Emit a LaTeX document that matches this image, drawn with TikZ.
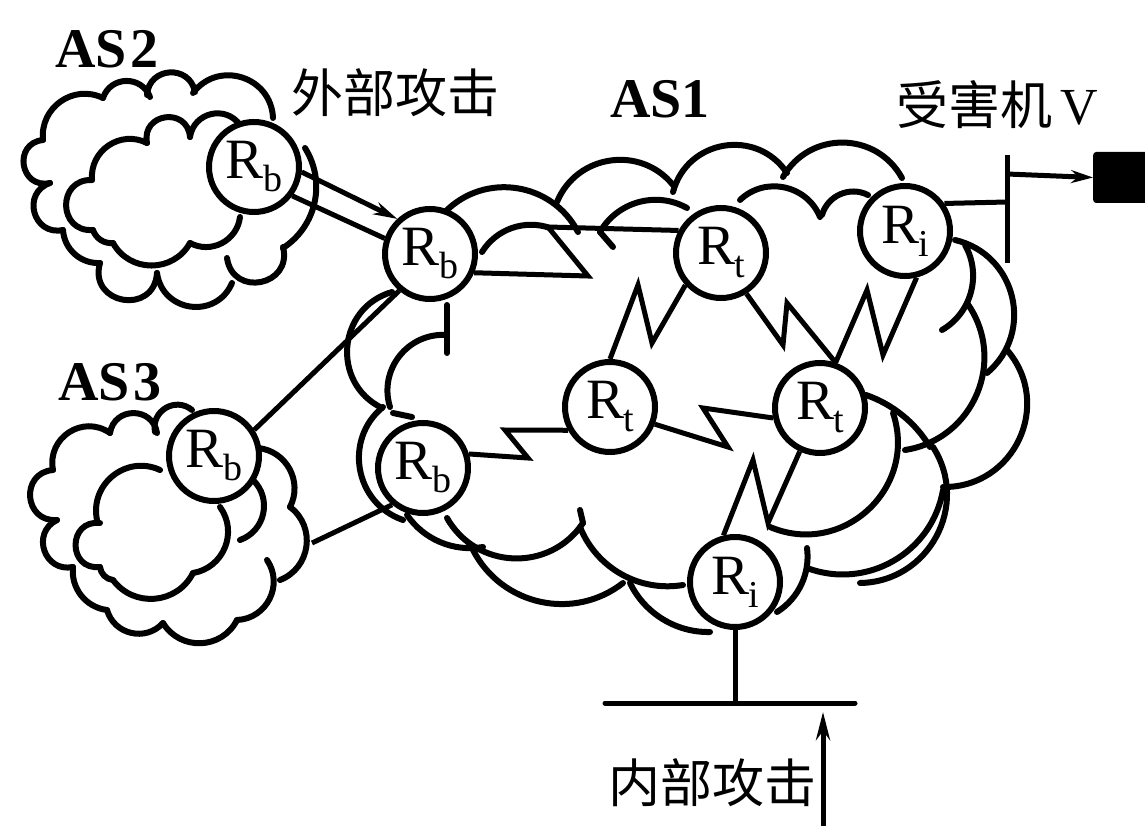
\documentclass[tikz,border=0pt]{standalone}
\usepackage{fontspec}
\setmainfont{Liberation Serif}
\newfontfamily\cjk{Noto Sans CJK SC}
\usetikzlibrary{arrows.meta}
\pgfdeclarelayer{background}
\pgfsetlayers{background,main}
\newcommand\rsub[1]{R\kern-1pt\raisebox{-13pt}{\fontsize{38}{38}\selectfont #1}}
\newcommand\bmp[3][1]{%
  \pgfmathsetmacro\bmpr{0.2936*#1}%
  \pgfmathsetmacro\bmpth{2*atan(2*\bmpr)}%
  \pgfmathsetmacro\bmpL{0.8515*(1+4*\bmpr*\bmpr)}%
  \draw[cl] #2 to[bend left=\bmpth,looseness=\bmpL] #3;}
\begin{document}
\begin{tikzpicture}[x=1pt,y=-1pt,
  cl/.style={line width=6pt,line cap=round},
  ln/.style={line width=5pt,line join=miter},
  router/.style={circle,draw,line width=6pt,fill=white,minimum size=90pt,inner sep=0pt,font=\fontsize{57}{57}\selectfont},
  lab/.style={font=\fontsize{56}{56}\selectfont\bfseries,inner sep=0pt},
  cjklab/.style={font=\fontsize{52}{52}\selectfont\cjk,inner sep=0pt}]
\useasboundingbox (0,0) rectangle (1145,826);

% routers
\node[router] (rb2) at (254,167) {\rsub{b}};
\node[router] (rbt) at (430,254) {\rsub{b}};
\node[router] (rt1) at (721,253) {\rsub{t}};
\node[router] (ri1) at (905,231) {\rsub{i}};
\node[router] (rtl) at (610,407) {\rsub{t}};
\node[router] (rtr) at (820,408) {\rsub{t}};
\node[router] (rb3) at (214,456) {\rsub{b}};
\node[router] (rbb) at (423,468) {\rsub{b}};
\node[router] (rib) at (735,582) {\rsub{i}};

% labels
\node[lab] (as2) at (107,49) {AS\kern4pt2};
\node[lab] (as3) at (110,382) {AS\kern4pt3};
\node[lab] (as1) at (660,99) {AS1};
\node[cjklab] (ext) at (395,93) {外部攻击};
\node[cjklab] (vic) at (997,105) {受害机{\fontsize{52}{52}\selectfont\rmfamily\kern8pt V}};
\node[cjklab] (int) at (712,783) {内部攻击};

% clouds
\begin{pgfonlayer}{background}
% AS2 outer
\bmp[1.6]{(63,230)}{(50,183)}
\bmp[1.8]{(50,183)}{(43,140)}
\bmp[1.0]{(43,140)}{(103,98)}
\bmp[1.2]{(103,98)}{(150,97)}
\bmp[1.5]{(147,95)}{(195,92)}
\bmp[1.2]{(193,93)}{(273,118)}
\bmp[0.7]{(305,148)}{(283,248)}
\bmp[1.8]{(283,247)}{(227,258)}
\bmp[1.3]{(232,283)}{(157,273)}
\bmp[1.9]{(157,273)}{(100,263)}
\bmp[0.7]{(100,263)}{(63,230)}
% AS2 inner
\bmp[1.8]{(93,230)}{(92,180)}
\bmp[1.0]{(92,180)}{(147,143)}
\bmp[1.8]{(147,143)}{(190,137)}
\bmp[1.15]{(190,137)}{(240,125)}
\bmp[0.9]{(240,217)}{(190,243)}
\bmp[1.0]{(190,243)}{(113,243)}
\bmp[0.6]{(113,243)}{(93,230)}
% AS3 outer
\bmp[0.7]{(107,610)}{(73,567)}
\bmp[1.5]{(73,567)}{(57,520)}
\bmp[1.7]{(57,520)}{(53,470)}
\bmp[1.15]{(53,470)}{(110,433)}
\bmp[1.45]{(110,433)}{(157,433)}
\bmp[1.2]{(155,432)}{(192,410)}
\bmp[0.9]{(258,448)}{(290,507)}
\bmp[1.0]{(290,507)}{(280,580)}
\bmp[1.0]{(267,560)}{(237,620)}
\bmp[1.0]{(237,620)}{(163,623)}
\bmp[1.0]{(163,623)}{(107,610)}
% AS3 inner
\bmp[1.9]{(100,567)}{(100,523)}
\bmp[1.05]{(97,520)}{(160,470)}
\bmp[0.95]{(220,507)}{(193,573)}
\bmp[0.95]{(193,573)}{(113,580)}
\bmp[0.6]{(113,580)}{(100,567)}
\bmp[0.95]{(253,480)}{(240,540)}
% AS1 top
\bmp[0.87]{(445,212)}{(578,232)}
\bmp[0.6]{(482,252)}{(550,228)}
\bmp[0.7]{(600,232)}{(687,208)}
\bmp[0.97]{(557,202)}{(673,185)}
\bmp[1.1]{(673,192)}{(787,173)}
\bmp[1.0]{(783,177)}{(902,178)}
\bmp[0.9]{(740,200)}{(820,217)}
\bmp[0.8]{(822,215)}{(868,195)}
\draw[cl] (600,232) -- (613,247);
% AS1 right
\bmp[1.05]{(955,240)}{(987,373)}
\bmp[1.1]{(1007,350)}{(943,487)}
\bmp[0.7]{(965,245)}{(942,330)}
\bmp[0.95]{(967,303)}{(905,450)}
\bmp[0.3]{(866,395)}{(930,447)}
\bmp[1.1]{(893,413)}{(770,527)}
\bmp[1.0]{(933,447)}{(860,583)}
\bmp[0.8]{(943,490)}{(807,568)}
\bmp[0.5]{(807,548)}{(777,612)}
% AS1 bottom
\bmp[0.6]{(683,585)}{(580,527)}
\bmp[0.5]{(710,632)}{(630,583)}
\bmp[0.8]{(623,583)}{(473,550)}
\bmp[0.95]{(583,523)}{(447,518)}
\bmp[0.5]{(483,547)}{(407,515)}
\draw[cl] (583,523) -- (580,510);
% AS1 left
\bmp[1.17]{(382,408)}{(392,292)}
\bmp[0.9]{(390,407)}{(447,335)}
\draw[cl] (447,305) -- (447,353);
\bmp[1.0]{(403,520)}{(383,407)}
\draw[cl] (393,413) -- (412,417);
\end{pgfonlayer}

% connectors between AS
\draw[ln,-{Stealth[length=24pt,width=13pt]}] (rb2.-6) -- (rbt.133);
\draw[ln] (rb2.323) -- (rbt.161);
\draw[ln] (rb3.33) -- (rbt.230);
\coordinate (c3) at (312,543);
\draw[ln] (c3) -- (rbb.230);

% zigzag links
\draw[ln] (rbt.337) -- (588,276) -- (548,227) -- (rt1.152);
\draw[ln] (rt1.222) -- (652,343) -- (638,285) -- (rtl.90);
\draw[ln] (rt1.302) -- (783,345) -- (787,303) -- (rtr.71);
\draw[ln] (ri1.284) -- (883,355) -- (867,290) -- (rtr.71);
\draw[ln] (rtl.339) -- (728,447) -- (703,408) -- (rtr.192);
\draw[ln] (rbb.17) -- (528,458) -- (505,430) -- (rtl.209);
\draw[ln] (rib.104) -- (753,460) -- (768,523) -- (rtr.245);

% victim
\coordinate (bar1) at (1007,155);
\coordinate (bar2) at (1007,263);
\coordinate (barj) at (1007,202);
\coordinate (arrs) at (1007,174);
\node[fill=black,rounded corners=3pt,minimum width=62pt,minimum height=51pt,inner sep=0pt,anchor=west] (sq) at (1093,177.5) {};
\draw[ln] (bar1) -- (bar2);
\draw[ln] (ri1.35) -- (barj);
\draw[ln,-{Stealth[length=22pt,width=13pt]}] (arrs) -- (sq.west);

% internal attack
\coordinate (gnd) at (735,703);
\coordinate (gl) at (605,703);
\coordinate (gr) at (855,703);
\coordinate (ia) at (823,830);
\coordinate (ib) at (823,712);
\draw[ln] (rib.south) -- (gnd);
\draw[ln,line cap=round] (gl) -- (gr);
\draw[ln,-{Stealth[length=28pt,width=14pt]}] (ia) -- (ib);
\end{tikzpicture}
\end{document}
